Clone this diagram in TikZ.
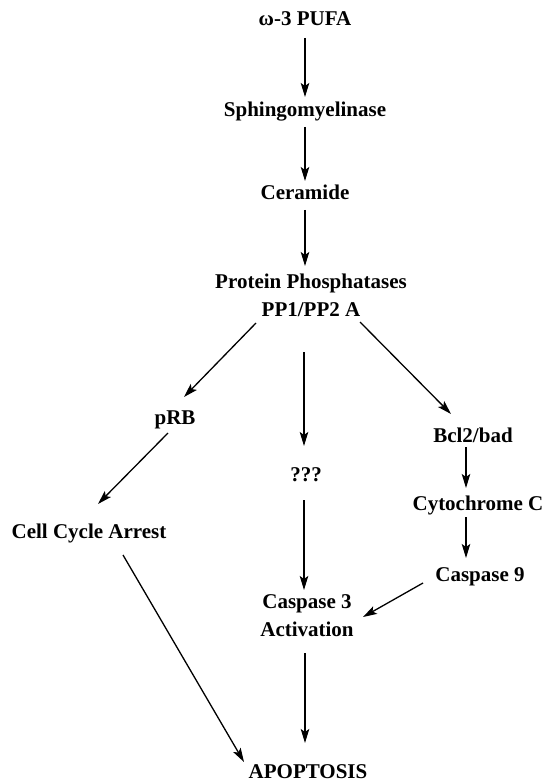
\documentclass[tikz,border=0pt]{standalone}
\usepackage{fontspec}
\setmainfont{Liberation Serif}
\usetikzlibrary{arrows.meta,calc}
\begin{document}
\begin{tikzpicture}[x=1pt,y=-1pt,
  lbl/.style={inner sep=0pt,font=\bfseries\fontsize{21}{28}\selectfont,text height=14pt,text depth=4pt,align=center},
  arr/.style={line width=1.3pt,-{Stealth[length=14pt,width=8.5pt,inset=3pt]}}]
\useasboundingbox (0,0) rectangle (546,783);
\node[lbl] (pufa) at (305,21) {ω-3 PUFA};
\node[lbl] (sph) at (305,112) {Sphingomyelinase};
\node[lbl] (cer) at (305,195) {Ceramide};
\node[lbl] (pp) at (311,311) {Protein Phosphatases\\PP1/PP2 A};
\node[lbl] (prb) at (175,419) {pRB};
\node[lbl] (qqq) at (306,476) {???};
\node[lbl] (bcl) at (473,437) {Bcl2/bad};
\node[lbl] (cyto) at (478,505) {Cytochrome C};
\node[lbl] (cca) at (89,533) {Cell Cycle Arrest};
\node[lbl] (c9) at (480,576) {Caspase 9};
\node[lbl] (c3) at (307,631) {Caspase 3\\Activation};
\node[lbl,text depth=1pt] (apo) at (308,772) {APOPTOSIS};
\draw[arr] ($(pufa)+(0,17)$) -- ($(sph)+(0,-15)$);
\draw[arr] ($(sph)+(0,15)$) -- ($(cer)+(0,-14)$);
\draw[arr] ($(cer)+(0,15)$) -- ($(pp)+(-6,-45)$);
\draw[arr] ($(pp)+(-55,12)$) -- ($(prb)+(9,-22)$);
\draw[arr] ($(pp)+(-7,41)$) -- ($(qqq)+(-2,-30)$);
\draw[arr] ($(pp)+(49,11)$) -- ($(bcl)+(-22,-23)$);
\draw[arr] ($(prb)+(-7,14)$) -- ($(cca)+(9,-29)$);
\draw[arr] ($(qqq)+(-2,24)$) -- ($(c3)+(-3,-41)$);
\draw[arr] ($(bcl)+(-7,10)$) -- ($(cyto)+(-12,-17)$);
\draw[arr] ($(cyto)+(-12,12)$) -- ($(c9)+(-14,-18)$);
\draw[arr] ($(c9)+(-57,7)$) -- ($(c3)+(56,-14)$);
\draw[arr] ($(cca)+(34,22)$) -- ($(apo)+(-64,-10)$);
\draw[arr] ($(c3)+(-2,22)$) -- ($(apo)+(-3,-29)$);
\end{tikzpicture}
\end{document}
